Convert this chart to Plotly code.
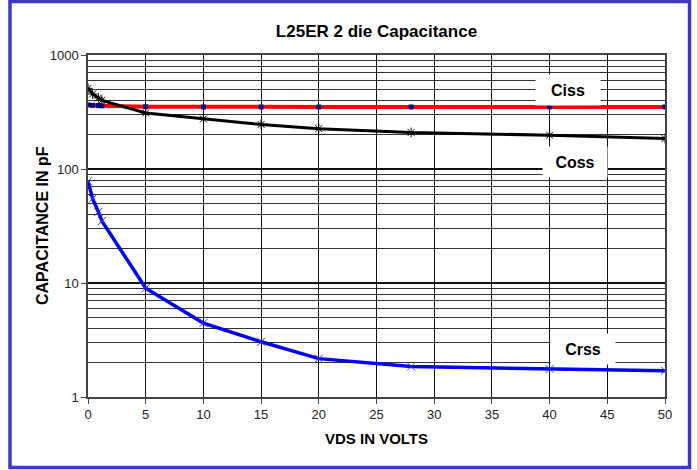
import math
import plotly.graph_objects as go

# ---- data ----
ciss_x = [0, 0.4, 0.9, 1.2, 5, 10, 15, 20, 28, 40, 50]
ciss_y = [365, 362, 360, 358, 352, 350, 350, 350, 350, 350, 350]

coss_x = [0, 0.4, 0.9, 1.2, 5, 10, 15, 20, 28, 40, 50]
coss_y = [510, 455, 420, 400, 310, 275, 246, 226, 209, 198, 185]

crss_x = [0, 0.4, 0.9, 1.2, 5, 10, 15, 20, 28, 40, 50]
crss_y = [78, 55, 42, 35, 9.0, 4.45, 3.05, 2.17, 1.85, 1.76, 1.70]

x_ticks = [0, 5, 10, 15, 20, 25, 30, 35, 40, 45, 50]
y_ticks = [1, 10, 100, 1000]
y_ticklabels = ["1", "10", "100", "1000"]

label_text = ["Ciss", "Coss", "Crss"]
label_x = [41.6, 42.2, 42.9]
label_y = [493, 115, 2.64]

FONT = "Liberation Sans Narrow, Arial Narrow, Liberation Sans, Arial, sans-serif"

fig = go.Figure()
fig.add_trace(go.Scatter(x=ciss_x, y=ciss_y, mode="lines+markers", name="Ciss",
                         line=dict(color="#FF0000", width=4),
                         marker=dict(symbol="square", size=5, color="#000080")))
fig.add_trace(go.Scatter(x=coss_x, y=coss_y, mode="lines+markers", name="Coss",
                         line=dict(color="#000000", width=3),
                         marker=dict(symbol="asterisk-open", size=8, color="#000000",
                                     line=dict(color="#000000", width=1))))
fig.add_trace(go.Scatter(x=crss_x, y=crss_y, mode="lines+markers", name="Crss",
                         line=dict(color="#0000FF", width=3.5),
                         marker=dict(symbol="x-thin-open", size=8, color="#3333FF",
                                     line=dict(color="#3333FF", width=1))))

for text, x, y in zip(label_text, label_x, label_y):
    fig.add_annotation(x=x, y=math.log10(y), yref="y", xref="x", text="<b>" + text + "</b>",
                       showarrow=False, bgcolor="white", borderpad=0,
                       width=64, height=30,
                       font=dict(family=FONT, size=16, color="black"))

# y axis title as rotated text
fig.add_annotation(x=-0.0797, y=0.5, xref="paper", yref="paper", textangle=-90,
                   text="<b>CAPACITANCE IN pF</b>", showarrow=False,
                   xanchor="center", yanchor="middle",
                   font=dict(family=FONT, size=16, color="black"))

# outer blue frame
fig.add_shape(type="rect", xref="paper", yref="paper",
              x0=-0.1352, x1=1.0425, y0=-0.2061, y1=1.1564,
              line=dict(color="#3838CC", width=3.5), layer="above")

fig.update_layout(
    width=697, height=470,
    margin=dict(l=88, r=32, t=55, b=73),
    paper_bgcolor="white", plot_bgcolor="white",
    showlegend=False,
    title=dict(text="<b>L25ER 2 die Capacitance</b>", x=0.5, xref="paper",
               y=0.935, yref="container", xanchor="center", yanchor="middle",
               font=dict(family=FONT, size=17, color="black")),
    font=dict(family=FONT, size=13, color="#222222"),
    xaxis=dict(range=[0, 50], tickvals=x_ticks, showgrid=True,
               gridcolor="#111111", gridwidth=1.2, zeroline=False,
               showline=True, linecolor="#444444", linewidth=1.5, mirror=True,
               ticks="outside", ticklen=5, tickcolor="#444444",
               title=dict(text="<b>VDS IN VOLTS</b>", standoff=12,
                          font=dict(family=FONT, size=15, color="black"))),
    yaxis=dict(type="log", range=[0, 3], tickvals=y_ticks, ticktext=y_ticklabels,
               showgrid=True, gridcolor="#111111", gridwidth=1.5, zeroline=False,
               showline=True, linecolor="#444444", linewidth=1.5, mirror=True,
               ticks="outside", ticklen=5, tickcolor="#444444",
               minor=dict(showgrid=True, gridcolor="#333333", gridwidth=1.2,
                          dtick="D1", ticks="")),
)

fig.write_html("out.html")
